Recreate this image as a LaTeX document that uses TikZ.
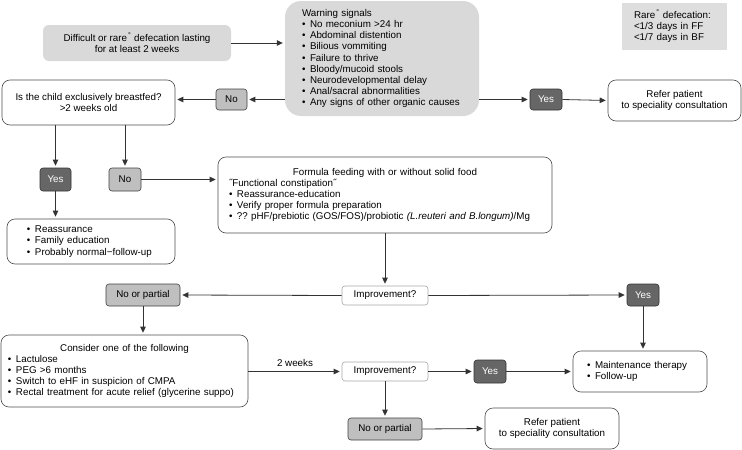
\documentclass[tikz,border=0pt]{standalone}
\usepackage{fontspec}
\setmainfont{Liberation Sans}
\usetikzlibrary{arrows.meta}

\newcommand{\itm}{\makebox[8pt][l]{\textbullet}}
\newcommand{\degsup}{\textsuperscript{\,\textdegree}}

\tikzset{
  arr/.style={draw=black!80, line width=0.8pt, shorten >=2pt,
    -{Triangle[length=6pt,width=5.5pt]}},
  graybox/.style={fill=black!15, rounded corners=6pt},
  whitebox/.style={draw=black!70, line width=0.6pt, rounded corners=8pt},
  impbox/.style={draw=black!35, line width=0.6pt, rounded corners=3pt, inner sep=1pt},
  nobox/.style={fill=black!25, draw=black!75, line width=0.6pt, rounded corners=3pt, inner sep=1pt},
  yesbox/.style={fill=black!60, draw=black!80, line width=0.6pt, rounded corners=3pt, inner sep=1pt, text=white},
}

\begin{document}
\frenchspacing
\begin{tikzpicture}[x=1pt,y=-1pt,font=\fontsize{9.8}{11.2}\selectfont]
\useasboundingbox (0,0) rectangle (742,450);

% top row
\node[graybox, minimum width=188, minimum height=36, align=center] (start) at (137,43)
  {Difficult or rare\degsup{} defecation lasting\\for at least 2 weeks};
\node[graybox, rounded corners=16pt, minimum height=115, inner xsep=17, text width=160, align=left] (warn) at (382,58.5)
  {Warning signals\\
   \itm No meconium >24 hr\\
   \itm Abdominal distention\\
   \itm Bilious vommiting\\
   \itm Failure to thrive\\
   \itm Bloody/mucoid stools\\
   \itm Neurodevelopmental delay\\
   \itm Anal/sacral abnormalities\\
   \itm Any signs of other organic causes};
\node[fill=black!13, minimum height=47, inner xsep=12, text width=81, align=left] (rare) at (674.5,26.5)
  {Rare\degsup{} defecation:\\{<}1/3 days in FF\\{<}1/7 days in BF};
\node[yesbox, minimum width=32, minimum height=21] (yesA) at (546,99.5) {Yes};
\node[whitebox, minimum width=133, minimum height=41, align=center] (referA) at (674.5,100.5)
  {Refer patient\\to speciality consultation};
\node[nobox, minimum width=31, minimum height=21] (noA) at (231.5,99.5) {No};
\node[whitebox, minimum width=173, minimum height=45, align=center] (quest) at (88.5,102.5)
  {Is the child exclusively breastfed?\\{>}2 weeks old};

% breastfed branch
\node[yesbox, minimum width=31, minimum height=23] (yesB) at (55.5,179.5) {Yes};
\node[nobox, minimum width=32, minimum height=23] (noB) at (125,179.5) {No};
\node[whitebox, minimum height=45, inner xsep=20, text width=128, align=left] (reass) at (91,241.5)
  {\itm Reassurance\\
   \itm Family education\\
   \itm Probably normal−follow-up};
\node[whitebox, minimum height=76, inner xsep=11, text width=312, align=left] (formula) at (385,195)
  {\makebox[\linewidth]{Formula feeding with or without solid food}\\
   ˝Functional constipation˝\\
   \itm Reassurance-education\\
   \itm Verify proper formula preparation\\
   \itm ?? pHF/prebiotic (GOS/FOS)/probiotic \textit{(L.reuteri and B.longum)}/Mg};

% first check
\node[impbox, minimum width=86, minimum height=19] (impA) at (385,295.5) {Improvement?};
\node[nobox, minimum width=74, minimum height=22] (partA) at (143,295) {No or partial};
\node[yesbox, minimum width=32, minimum height=22] (yesC) at (643,295) {Yes};
\node[whitebox, minimum height=72, inner xsep=7, text width=233, align=left] (consider) at (124.5,371)
  {\makebox[\linewidth]{Consider one of the following}\\
   \itm Lactulose\\
   \itm PEG >6 months\\
   \itm Switch to eHF in suspicion of CMPA\\
   \itm Rectal treatment for acute relief (glycerine suppo)};

% second check
\node[impbox, minimum width=86, minimum height=19] (impB) at (385,371.5) {Improvement?};
\node[yesbox, minimum width=32, minimum height=23] (yesD) at (490,371.5) {Yes};
\node[whitebox, minimum height=41, inner xsep=14, text width=106, align=left] (maint) at (640,371.5)
  {\itm Maintenance therapy\\\itm Follow-up};
\node[nobox, minimum width=74, minimum height=22] (partB) at (385,429) {No or partial};
\node[whitebox, minimum width=134, minimum height=41, align=center] (referB) at (552,428.5)
  {Refer patient\\to speciality consultation};

% connectors
\draw[arr] (start.east) -- (start.east -| warn.west);
\draw[arr] (yesA.west -| warn.east) -- (yesA.west);
\draw[arr] (yesA.east) -- (referA.west);
\draw[arr] (noA.east -| warn.west) -- (noA.east);
\draw[arr] (noA.west) -- (noA.west -| quest.east);
\draw[arr] (quest.south -| yesB.north) -- (yesB.north);
\draw[arr] (quest.south -| noB.north) -- (noB.north);
\draw[arr] (yesB.south) -- (yesB.south |- reass.north);
\draw[arr] (noB.east) -- (noB.east -| formula.west);
\draw[arr] (formula.south) -- (impA.north);
\draw[arr] (impA.west) -- (partA.east);
\draw[arr] (impA.east) -- (yesC.west);
\draw[arr] (yesC.south) -- (yesC.south |- maint.north);
\draw[arr] (partA.south) -- (partA.south |- consider.north);
\draw[arr] (consider.east |- impB.west) -- node[above=1pt] {2 weeks} (impB.west);
\draw[arr] (impB.east) -- (yesD.west);
\draw[arr] (yesD.east) -- (maint.west);
\draw[arr] (impB.south) -- (partB.north);
\draw[arr] (partB.east) -- (referB.west);
\end{tikzpicture}
\end{document}
